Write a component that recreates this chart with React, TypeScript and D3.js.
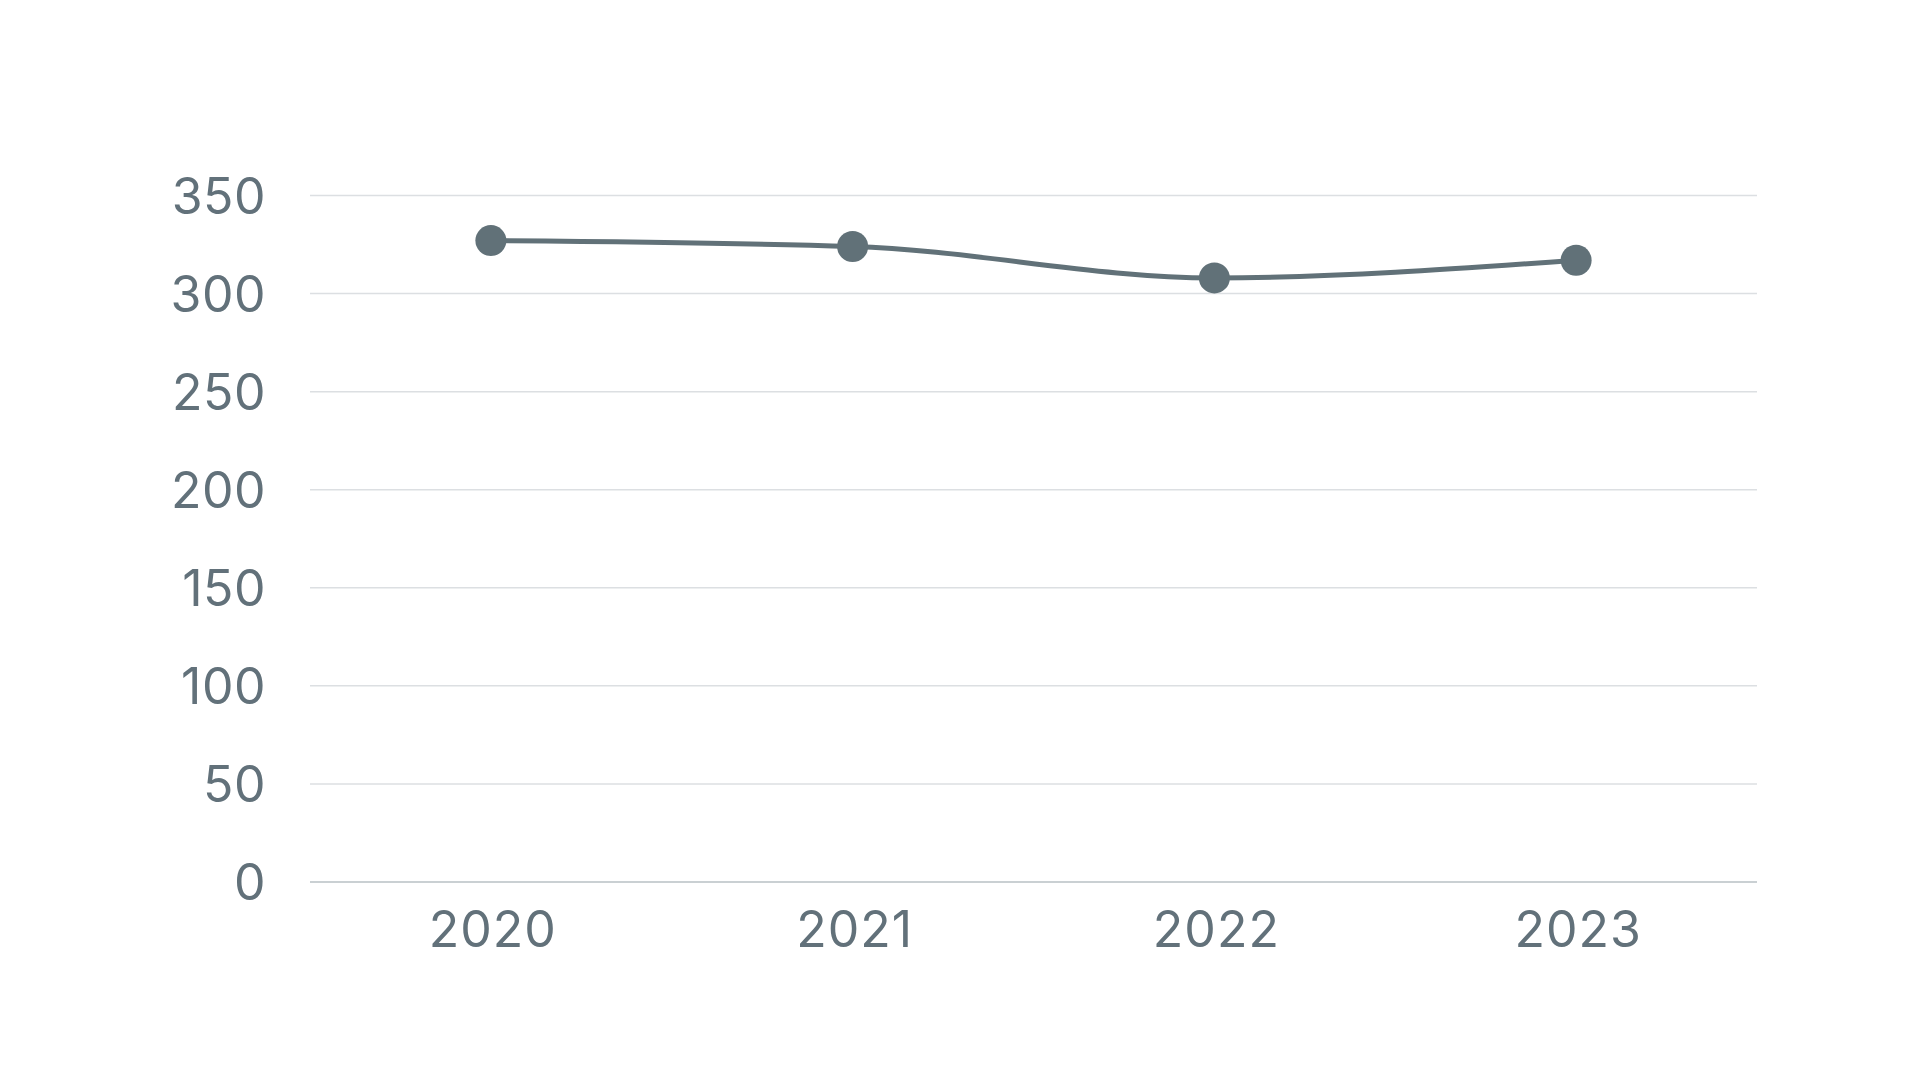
import React from 'react';
import * as d3 from 'd3';

const years = ['2020', '2021', '2022', '2023'];
const values = [327, 324, 308, 317];
const yTicks = [0, 50, 100, 150, 200, 250, 300, 350];

const width = 1920;
const height = 1080;

const App: React.FC = () => {
    const svgRef = React.useRef<SVGSVGElement>(null);

    React.useEffect(() => {
        if (!svgRef.current) return;
        const svg = d3.select(svgRef.current);
        svg.selectAll('*').remove();

        const left = 310;
        const right = 1757;
        const top = 195.5;
        const bottom = 882;

        const xScale = d3.scalePoint<string>()
            .domain(years)
            .range([left, right])
            .padding(0.5);

        const yScale = d3.scaleLinear()
            .domain([0, 350])
            .range([bottom, top]);

        const font = 'Inter, "Noto Sans", sans-serif';
        const textColor = '#62717a';

        // grid lines
        svg.append('g')
            .selectAll('line')
            .data(yTicks.filter(t => t !== 0))
            .enter()
            .append('line')
            .attr('x1', left)
            .attr('x2', right)
            .attr('y1', d => yScale(d))
            .attr('y2', d => yScale(d))
            .attr('stroke', '#dcdfe2')
            .attr('stroke-width', 1.5);

        // baseline
        svg.append('line')
            .attr('x1', left)
            .attr('x2', right)
            .attr('y1', yScale(0))
            .attr('y2', yScale(0))
            .attr('stroke', '#b9c0c5')
            .attr('stroke-width', 1.5);

        // y labels
        svg.append('g')
            .selectAll('text')
            .data(yTicks)
            .enter()
            .append('text')
            .attr('x', 266)
            .attr('y', d => yScale(d))
            .attr('dy', '0.36em')
            .attr('text-anchor', 'end')
            .attr('font-family', font)
            .attr('font-size', 50)
            .attr('letter-spacing', 0.5)
            .attr('fill', textColor)
            .text(d => d);

        // x labels
        svg.append('g')
            .selectAll('text')
            .data(years)
            .enter()
            .append('text')
            .attr('x', d => xScale(d) as number)
            .attr('y', yScale(0) + 65)
            .attr('dx', 2)
            .attr('text-anchor', 'middle')
            .attr('font-family', font)
            .attr('font-size', 50)
            .attr('letter-spacing', 1)
            .attr('fill', textColor)
            .text(d => d);

        const line = d3.line<number>()
            .x((_, i) => xScale(years[i]) as number)
            .y(d => yScale(d))
            .curve(d3.curveMonotoneX);

        svg.append('path')
            .datum(values)
            .attr('d', line)
            .attr('fill', 'none')
            .attr('stroke', '#617178')
            .attr('stroke-width', 5);

        svg.append('g')
            .selectAll('circle')
            .data(values)
            .enter()
            .append('circle')
            .attr('cx', (_, i) => xScale(years[i]) as number)
            .attr('cy', d => yScale(d))
            .attr('r', 15.5)
            .attr('fill', '#617178');
    }, []);

    return (
        <svg
            ref={svgRef}
            width={width}
            height={height}
            style={{ position: 'absolute', top: 0, left: 0, background: '#fff' }}
        />
    );
};

export default App;
